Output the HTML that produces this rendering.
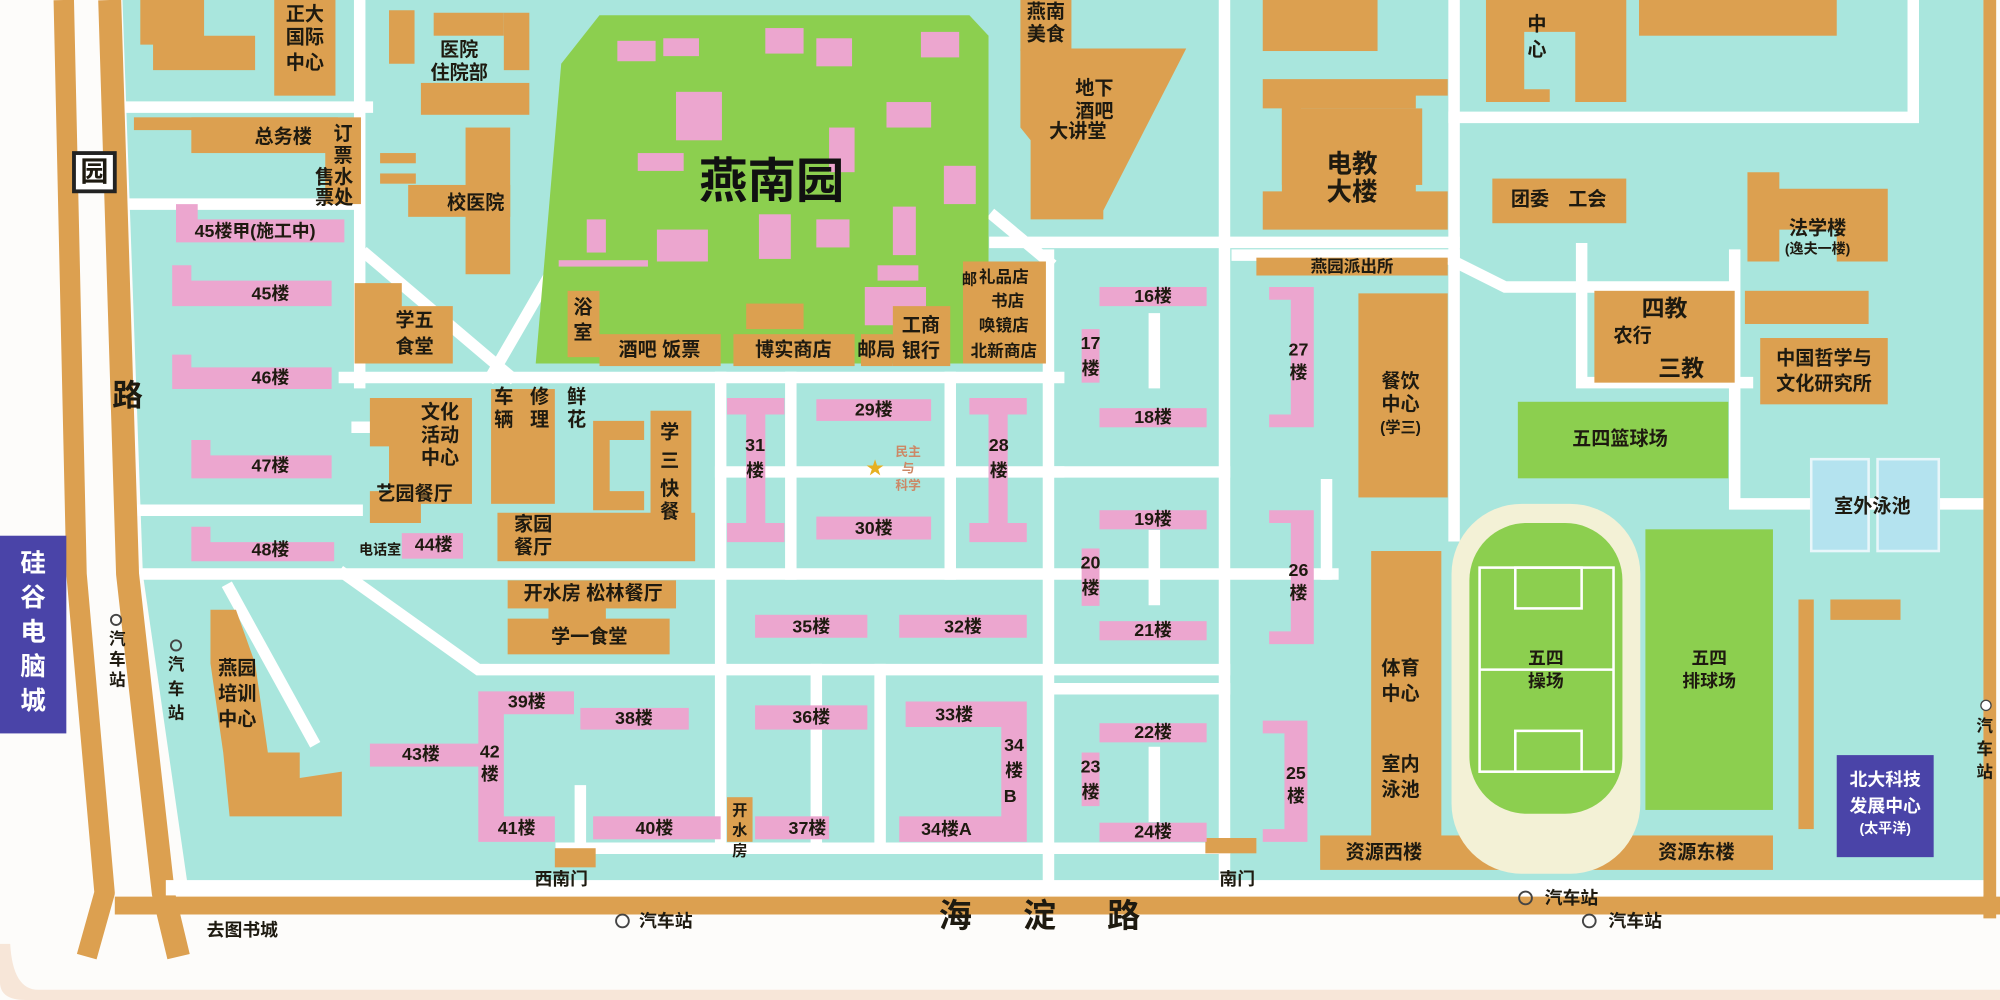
<!DOCTYPE html>
<html><head><meta charset="utf-8"><style>
html,body{margin:0;padding:0;background:#fff;}
svg{display:block}
text{font-family:"Liberation Sans","Noto Sans CJK SC",sans-serif;font-weight:bold;fill:#1e1a10;text-anchor:middle;dominant-baseline:middle}
.o{fill:#dca050}.p{fill:#eca6cf}.g{fill:#8ccf4f}
</style></head><body>
<svg width="2000" height="1000" viewBox="0 0 1568 784" xmlns="http://www.w3.org/2000/svg">
<rect width="1568" height="784" fill="#fdfcfa"/>
<path d="M0 740 L0 770 Q0 784 20 784 L1568 784 L1568 776 L30 776 Q10 776 8 740Z" fill="#f7e6d8"/>
<path d="M96 0 L1555 0 L1555 700 L148 700 L112 450Z" fill="#a9e6dd"/>
<g stroke="#fff" stroke-width="9" fill="none" stroke-linecap="square">
<path d="M100 84 H288"/>
<path d="M282 0 V300 M288 200 L400 295 M440 200 L385 295"/>
<path d="M270 296 H830"/>
<path d="M112 450 H1045"/>
<path d="M270 450 L375 525 H565"/>
<path d="M180 462 L245 580"/>
<path d="M565 296 V665 M822 200 V690 M960 0 V690 M1140 0 V420 M1240 195 V300 M1240 300 H1370"/>
<path d="M780 190 H1140 M780 170 L822 205 M1140 92 H1500 M1500 0 V92"/>
<path d="M565 525 H960 M440 665 H960 M455 620 V665 M830 370 H960 M830 540 H960 M905 250 V300 M905 420 V470 M905 590 V640"/>
<path d="M565 370 H830 M620 296 V450 M745 296 V450 M640 525 V665 M690 525 V665"/>
<path d="M1140 205 L1180 225 H1360 M1040 380 V450 M1360 200 V395 M1360 395 H1555"/>
<path d="M100 160 H280 M100 400 H280 M280 335 H300"/>
<path d="M970 200 H1140"/>
</g>
<g fill="none" stroke="#dca050" stroke-linejoin="round">
<path d="M50 0 L60 450 L82 700 L68 750" stroke-width="16"/>
<path d="M86 0 L100 450 L128 700 L140 750" stroke-width="18"/>
<path d="M90 710 H1568" stroke-width="14"/>
<path d="M1560 0 V720" stroke-width="10"/>
</g>
<rect x="130" y="690" width="1425" height="12" fill="#fff"/>
<rect x="58" y="120" width="32" height="30" fill="#fff" stroke="#222" stroke-width="3"/>
<text x="74" y="136" font-size="22">园</text>
<text x="100" y="312" font-size="24">路</text>
<rect x="0" y="420" width="52" height="155" fill="#4a44a8"/>
<text x="26" y="443" font-size="20" style="fill:#fff">硅</text><text x="26" y="470" font-size="20" style="fill:#fff">谷</text><text x="26" y="497" font-size="20" style="fill:#fff">电</text><text x="26" y="524" font-size="20" style="fill:#fff">脑</text><text x="26" y="551" font-size="20" style="fill:#fff">城</text>
<g font-size="13"><circle cx="91" cy="486" r="4" fill="none" stroke="#444" stroke-width="1.5"/><text x="92" y="502">汽</text><text x="92" y="518">车</text><text x="92" y="534">站</text>
<circle cx="138" cy="506" r="4" fill="none" stroke="#444" stroke-width="1.5"/><text x="138" y="522">汽</text><text x="138" y="541">车</text><text x="138" y="560">站</text></g>
<text x="190" y="730" font-size="14">去图书城</text>
<text x="440" y="690" font-size="14">西南门</text>
<text x="970" y="690" font-size="14">南门</text>
<circle cx="488" cy="722" r="5" fill="none" stroke="#444" stroke-width="1.5"/><text x="522" y="723" font-size="14">汽车站</text>
<circle cx="1196" cy="704" r="5" fill="none" stroke="#444" stroke-width="1.5"/><text x="1232" y="705" font-size="14">汽车站</text>
<circle cx="1246" cy="722" r="5" fill="none" stroke="#444" stroke-width="1.5"/><text x="1282" y="723" font-size="14">汽车站</text>
<text x="835" y="720" font-size="26" letter-spacing="40">海淀路</text>
<circle cx="1557" cy="553" r="4" fill="#fff" stroke="#444"/><text x="1556" y="570" font-size="13">汽</text><text x="1556" y="588" font-size="13">车</text><text x="1556" y="606" font-size="13">站</text>
<path d="M470 12 H760 L775 28 V285 H420 L440 50Z" class="g"/>
<g class="p"><rect x="484" y="32" width="30" height="16"/><rect x="520" y="30" width="28" height="14"/><rect x="600" y="22" width="30" height="20"/><rect x="640" y="30" width="28" height="22"/><rect x="722" y="25" width="30" height="20"/><rect x="530" y="72" width="36" height="38"/><rect x="500" y="120" width="36" height="14"/><rect x="650" y="100" width="20" height="35"/><rect x="695" y="80" width="35" height="20"/><rect x="740" y="130" width="25" height="30"/><rect x="460" y="172" width="15" height="26"/><rect x="515" y="180" width="40" height="25"/><rect x="595" y="168" width="25" height="35"/><rect x="640" y="172" width="26" height="22"/><rect x="688" y="208" width="32" height="12"/><rect x="678" y="225" width="48" height="30"/><rect x="700" y="162" width="18" height="38"/><rect x="438" y="204" width="70" height="5"/></g>
<text x="605" y="145" font-size="38" style="fill:#111">燕南园</text>
<g class="o"><rect x="445" y="228" width="25" height="52"/><rect x="470" y="262" width="95" height="25"/><rect x="575" y="262" width="95" height="25"/><rect x="675" y="262" width="25" height="25"/><rect x="700" y="240" width="45" height="47"/><rect x="585" y="238" width="45" height="20"/></g>
<g font-size="15"><text x="457" y="242">浴</text><text x="457" y="262">室</text><text x="517" y="275">酒吧 饭票</text><text x="622" y="275">博实商店</text><text x="687" y="275">邮局</text><text x="722" y="256">工商</text><text x="722" y="276">银行</text></g>
<g class="o"><path d="M110 0 H160 V28 H200 V55 H120 V35 H110Z"/><rect x="215" y="0" width="48" height="75"/><path d="M305 8 H325 V50 H305Z"/><rect x="340" y="10" width="55" height="18"/><rect x="395" y="10" width="20" height="45"/><rect x="330" y="65" width="85" height="25"/><rect x="105" y="92" width="150" height="10"/><rect x="150" y="92" width="115" height="28"/><rect x="255" y="92" width="28" height="68"/><rect x="298" y="120" width="28" height="8"/><rect x="298" y="136" width="28" height="8"/><rect x="320" y="145" width="80" height="25"/><rect x="365" y="100" width="35" height="115"/><path d="M278 222 H315 V240 H355 V285 H278Z"/></g>
<g font-size="15"><text x="239" y="12">正大</text><text x="239" y="30">国际</text><text x="239" y="50">中心</text><text x="360" y="40">医院</text><text x="360" y="58">住院部</text><text x="222" y="108">总务楼</text><text x="269" y="106">订</text><text x="269" y="123">票</text><text x="262" y="140">售水</text><text x="262" y="156">票处</text><text x="373" y="160">校医院</text><text x="325" y="252">学五</text><text x="325" y="273">食堂</text></g>
<g class="p"><path d="M138 160 H155 V172 H270 V190 H138Z"/><path d="M135 208 H150 V220 H260 V240 H135Z"/><path d="M135 278 H150 V288 H260 V305 H135Z"/><path d="M150 345 H165 V357 H260 V375 H150Z"/><path d="M150 413 H165 V425 H262 V440 H150Z"/><rect x="315" y="418" width="48" height="20"/></g>
<g font-size="14"><text x="200" y="182">45楼甲(施工中)</text><text x="212" y="231">45楼</text><text x="212" y="297">46楼</text><text x="212" y="366">47楼</text><text x="212" y="432">48楼</text><text x="340" y="428">44楼</text><text x="298" y="432" font-size="11">电话室</text></g>
<g class="o"><path d="M290 312 H370 V395 H330 V410 H290 V385 H305 V350 H290Z"/><rect x="385" y="305" width="50" height="90"/><path d="M465 330 H505 V345 H478 V385 H505 V400 H465Z"/><rect x="510" y="322" width="32" height="86"/><rect x="390" y="402" width="155" height="38"/><rect x="398" y="455" width="132" height="22"/><rect x="430" y="470" width="45" height="20"/><rect x="398" y="485" width="127" height="28"/><path d="M165 478 H185 L200 520 L210 590 H235 V610 L268 605 V640 H180 L175 590 L165 520Z"/><rect x="570" y="625" width="20" height="35"/><rect x="435" y="665" width="32" height="15"/><rect x="945" y="657" width="40" height="12"/></g>
<g font-size="15"><text x="345" y="324">文化</text><text x="345" y="342">活动</text><text x="345" y="360">中心</text><text x="325" y="388">艺园餐厅</text><text x="395" y="312">车</text><text x="395" y="330">辆</text><text x="423" y="312">修</text><text x="423" y="330">理</text><text x="452" y="312">鲜</text><text x="452" y="330">花</text><text x="525" y="340">学</text><text x="525" y="362">三</text><text x="525" y="384">快</text><text x="525" y="402">餐</text><text x="418" y="412">家园</text><text x="418" y="430">餐厅</text><text x="465" y="466">开水房 松林餐厅</text><text x="462" y="500">学一食堂</text><text x="186" y="525">燕园</text><text x="186" y="545">培训</text><text x="186" y="565">中心</text><text x="580" y="636" font-size="12">开</text><text x="580" y="652" font-size="12">水</text><text x="580" y="668" font-size="12">房</text></g>
<g class="p"><path d="M570 312 H615 V325 H600 V410 H615 V425 H570 V410 H585 V325 H570Z"/><path d="M760 312 H805 V325 H790 V410 H805 V425 H760 V410 H775 V325 H760Z"/><rect x="640" y="313" width="90" height="17"/><rect x="640" y="405" width="90" height="18"/><rect x="592" y="482" width="88" height="18"/><rect x="705" y="482" width="100" height="18"/><rect x="592" y="553" width="88" height="19"/><path d="M710 550 H805 V660 H705 V640 H785 V570 H710Z"/><rect x="592" y="640" width="58" height="18"/><rect x="465" y="640" width="100" height="18"/><rect x="455" y="555" width="85" height="17"/><path d="M375 542 H450 V560 H395 V640 H435 V660 H375Z"/><rect x="290" y="583" width="90" height="18"/></g>
<g font-size="14"><text x="592" y="350">31</text><text x="592" y="370">楼</text><text x="783" y="350">28</text><text x="783" y="370">楼</text><text x="685" y="322">29楼</text><text x="685" y="415">30楼</text><text x="636" y="492">35楼</text><text x="755" y="492">32楼</text><text x="636" y="563">36楼</text><text x="748" y="561">33楼</text><text x="795" y="585">34</text><text x="795" y="605">楼</text><text x="792" y="625">B</text><text x="742" y="651">34楼A</text><text x="633" y="650">37楼</text><text x="513" y="650">40楼</text><text x="497" y="564">38楼</text><text x="413" y="551">39楼</text><text x="384" y="590">42</text><text x="384" y="608">楼</text><text x="405" y="650">41楼</text><text x="330" y="592">43楼</text></g>
<text x="712" y="355" font-size="10" style="fill:#c86">民主</text><text x="712" y="368" font-size="10" style="fill:#c86">与</text><text x="712" y="381" font-size="10" style="fill:#c86">科学</text><text x="686" y="368" font-size="14" style="fill:#e6b020">★</text>
<g class="o"><rect x="755" y="205" width="65" height="80"/><rect x="800" y="0" width="40" height="40"/><path d="M800 38 H930 L865 165 V172 H808 V110 L800 100Z"/><rect x="990" y="0" width="90" height="40"/><path d="M990 62 H1135 V75 H1110 V85 H1020 V140 H1110 V150 H1135 V180 H990 V150 H1005 V85 H990Z"/><rect x="1005" y="85" width="110" height="60"/><path d="M1165 0 H1275 V80 H1235 V25 H1195 V70 H1215 V80 H1165Z"/><rect x="1285" y="0" width="155" height="28"/><rect x="1170" y="140" width="105" height="35"/><path d="M1370 135 H1395 V148 H1480 V205 H1440 V180 H1395 V205 H1370Z"/><rect x="985" y="202" width="150" height="14"/><rect x="1065" y="230" width="70" height="160"/><rect x="1250" y="228" width="110" height="72"/><rect x="1368" y="228" width="97" height="26"/><rect x="1380" y="265" width="100" height="52"/><rect x="1075" y="432" width="55" height="228"/><rect x="1410" y="470" width="12" height="180"/><rect x="1435" y="470" width="55" height="16"/><rect x="1035" y="655" width="355" height="27"/></g>
<g font-size="15"><text x="787" y="218" font-size="13">礼品店</text><text x="790" y="237" font-size="13">书店</text><text x="787" y="256" font-size="13">唤镜店</text><text x="787" y="276" font-size="13">北新商店</text><text x="760" y="220" font-size="12">邮</text><text x="820" y="10">燕南</text><text x="820" y="28">美食</text><text x="858" y="70">地下</text><text x="858" y="88">酒吧</text><text x="845" y="104">大讲堂</text><text x="1060" y="130" font-size="20">电教</text><text x="1060" y="152" font-size="20">大楼</text><text x="1222" y="157">团委　工会</text><text x="1425" y="180">法学楼</text><text x="1425" y="196" font-size="11">(逸夫一楼)</text><text x="1205" y="20">中</text><text x="1205" y="40">心</text><text x="1060" y="210" font-size="13">燕园派出所</text><text x="1098" y="300">餐饮</text><text x="1098" y="318">中心</text><text x="1098" y="336" font-size="12">(学三)</text><text x="1305" y="243" font-size="18">四教</text><text x="1280" y="264">农行</text><text x="1318" y="290" font-size="18">三教</text><text x="1430" y="282">中国哲学与</text><text x="1430" y="302">文化研究所</text><text x="1098" y="525">体育</text><text x="1098" y="545">中心</text><text x="1098" y="600">室内</text><text x="1098" y="620">泳池</text><text x="1085" y="669">资源西楼</text><text x="1210" y="670">建设银行</text><text x="1330" y="669">资源东楼</text></g>
<g class="p"><rect x="862" y="225" width="84" height="15"/><rect x="848" y="258" width="14" height="42"/><rect x="862" y="320" width="84" height="15"/><rect x="862" y="400" width="84" height="15"/><rect x="848" y="430" width="14" height="45"/><rect x="862" y="487" width="84" height="15"/><rect x="862" y="567" width="84" height="15"/><rect x="848" y="590" width="14" height="42"/><rect x="862" y="645" width="84" height="15"/><path d="M995 225 H1030 V335 H995 V325 H1012 V235 H995Z"/><path d="M995 400 H1030 V505 H995 V495 H1012 V410 H995Z"/><path d="M990 565 H1025 V660 H990 V650 H1007 V575 H990Z"/></g>
<g font-size="14"><text x="904" y="233">16楼</text><text x="855" y="270">17</text><text x="855" y="290">楼</text><text x="904" y="328">18楼</text><text x="904" y="408">19楼</text><text x="855" y="442">20</text><text x="855" y="462">楼</text><text x="904" y="495">21楼</text><text x="904" y="575">22楼</text><text x="855" y="602">23</text><text x="855" y="622">楼</text><text x="904" y="653">24楼</text><text x="1018" y="275">27</text><text x="1018" y="293">楼</text><text x="1018" y="448">26</text><text x="1018" y="466">楼</text><text x="1016" y="607">25</text><text x="1016" y="625">楼</text></g>
<rect x="1190" y="315" width="165" height="60" class="g"/><text x="1270" y="345" font-size="15">五四篮球场</text>
<rect x="1420" y="360" width="45" height="72" fill="#b4e3ef" stroke="#e8f6fa" stroke-width="2"/><rect x="1472" y="360" width="48" height="72" fill="#b4e3ef" stroke="#e8f6fa" stroke-width="2"/><text x="1468" y="398" font-size="15">室外泳池</text>
<rect x="1138" y="395" width="148" height="290" rx="55" fill="#f3f1d6"/>
<rect x="1152" y="410" width="120" height="228" rx="45" class="g"/>
<g fill="none" stroke="#fff" stroke-width="2"><rect x="1160" y="445" width="105" height="160"/><line x1="1160" y1="525" x2="1265" y2="525"/><rect x="1188" y="445" width="52" height="32"/><rect x="1188" y="573" width="52" height="32"/></g>
<text x="1212" y="517" font-size="14">五四</text><text x="1212" y="535" font-size="14">操场</text>
<rect x="1290" y="415" width="100" height="220" class="g"/><text x="1340" y="517" font-size="14">五四</text><text x="1340" y="535" font-size="14">排球场</text>
<rect x="1440" y="592" width="76" height="80" fill="#4a44a8"/>
<text x="1478" y="612" font-size="14" style="fill:#fff">北大科技</text><text x="1478" y="633" font-size="14" style="fill:#fff">发展中心</text><text x="1478" y="650" font-size="11" style="fill:#fff">(太平洋)</text>
</svg>
</body></html>
